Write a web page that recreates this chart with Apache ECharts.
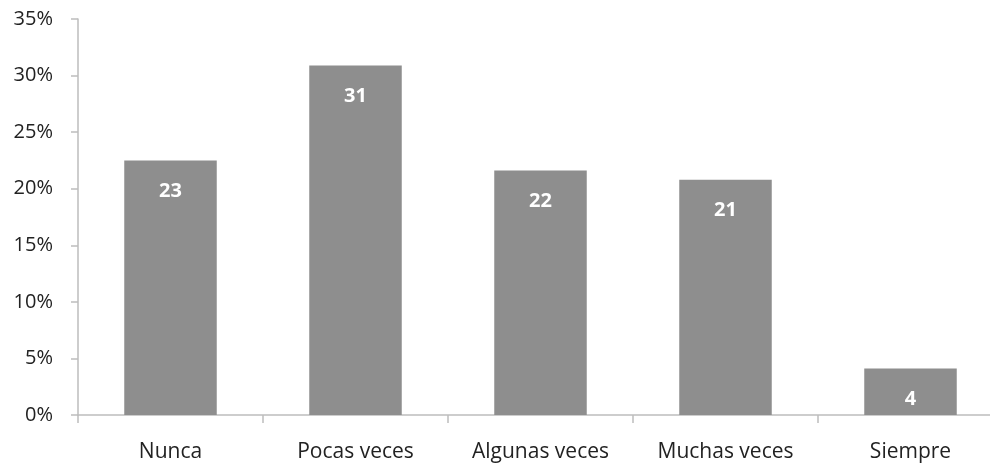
<!DOCTYPE html>
<html>
<head>
<meta charset="utf-8">
<script src="https://cdn.jsdelivr.net/npm/echarts@6/dist/echarts.min.js"></script>
<style>html,body{margin:0;padding:0;background:#fff}#wrap{position:relative;width:990px;height:463px;overflow:hidden}#c{position:absolute;left:0;top:0;width:1003px;height:463px}</style>
</head>
<body>
<div id="wrap"><div id="c"></div></div>
<script>
const categories = ['Nunca', 'Pocas veces', 'Algunas veces', 'Muchas veces', 'Siempre'];
const values = [22.5, 30.9, 21.6, 20.8, 4.1];
const labels = ['23', '31', '22', '21', '4'];
const yTicks = [0, 5, 10, 15, 20, 25, 30, 35];

const chart = echarts.init(document.getElementById('c'));
const font = '"Open Sans", "Liberation Sans", sans-serif';
chart.setOption({
  animation: false,
  backgroundColor: '#ffffff',
  grid: { left: 78, top: 19, bottom: 45, right: 0, containLabel: false },
  xAxis: {
    type: 'category',
    data: categories,
    boundaryGap: true,
    axisLine: { lineStyle: { color: '#bdbdbd', width: 1.5 } },
    axisTick: { show: true, interval: 0, length: 8, lineStyle: { color: '#bdbdbd', width: 1.5 } },
    axisLabel: { interval: 0, margin: 27, color: '#222', fontSize: 21, fontFamily: font }
  },
  yAxis: {
    type: 'value',
    min: yTicks[0],
    max: yTicks[yTicks.length - 1],
    interval: 5,
    splitLine: { show: false },
    axisLine: { show: true, lineStyle: { color: '#bdbdbd', width: 1.5 } },
    axisTick: { show: true, length: 7, lineStyle: { color: '#bdbdbd', width: 1.5 } },
    axisLabel: { formatter: '{value}%', margin: 25, color: '#222', fontSize: 20, fontFamily: font }
  },
  series: [{
    type: 'bar',
    data: values,
    barWidth: '50%',
    itemStyle: { color: '#8e8e8e' },
    label: {
      show: true,
      position: 'insideTop',
      distance: 21,
      color: '#ffffff',
      fontWeight: 'bold',
      fontSize: 20,
      fontFamily: font,
      formatter: p => labels[p.dataIndex]
    }
  }]
});
</script>
</body>
</html>
